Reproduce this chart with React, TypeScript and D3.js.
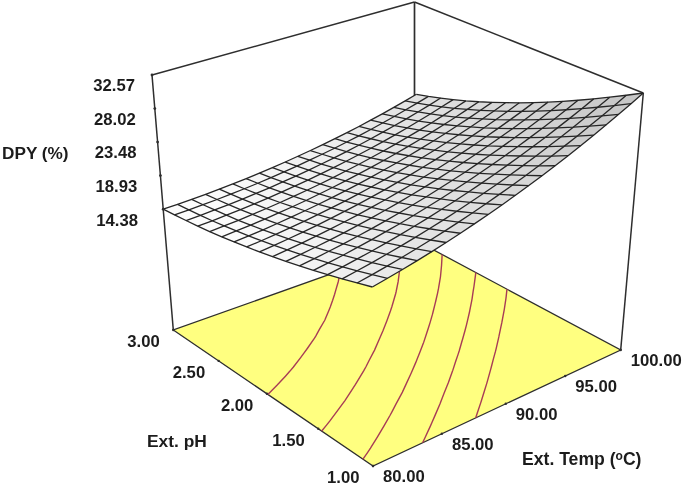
import React from "react";
import * as d3 from "d3";

const tempTicks = [80, 85, 90, 95, 100];
const phTicks = [1, 1.5, 2, 2.5, 3];
const zTicks = [14.38, 18.93, 23.48, 28.02, 32.57];
const zFloor = -2;
const zTop = 32.57;
const contourLevels = [16.6, 18.55, 20.3, 22.05, 23.95];

// DPY over the grid: 17 rows run pH 1.00 -> 3.00, 21 columns run Temp 80 -> 100
const surfaceRows: number[][] = [
  [20.75,21.08,21.44,21.82,22.23,22.67,23.14,23.64,24.16,24.71,25.29,25.89,26.52,27.18,27.87,28.58,29.33,30.10,30.89,31.72,32.57],
  [20.12,20.42,20.76,21.12,21.51,21.92,22.36,22.83,23.33,23.85,24.40,24.97,25.58,26.21,26.87,27.56,28.27,29.01,29.77,30.57,31.39],
  [19.52,19.80,20.11,20.45,20.81,21.20,21.62,22.06,22.53,23.03,23.55,24.10,24.68,25.28,25.91,26.57,27.25,27.96,28.70,29.47,30.26],
  [18.95,19.21,19.50,19.81,20.15,20.52,20.91,21.33,21.78,22.24,22.75,23.27,23.82,24.40,25.00,25.63,26.28,26.97,27.67,28.41,29.17],
  [18.41,18.65,18.91,19.21,19.52,19.87,20.23,20.63,21.05,21.50,21.97,22.47,22.99,23.55,24.12,24.73,25.35,26.01,26.69,27.40,28.13],
  [17.90,18.12,18.37,18.63,18.93,19.25,19.60,19.97,20.37,20.79,21.24,21.72,22.21,22.74,23.29,23.87,24.47,25.10,25.75,26.43,27.14],
  [17.43,17.63,17.85,18.10,18.37,18.67,19.00,19.35,19.72,20.12,20.55,21.00,21.47,21.98,22.50,23.05,23.63,24.23,24.86,25.51,26.19],
  [16.98,17.16,17.37,17.59,17.84,18.13,18.42,18.76,19.11,19.49,19.89,20.32,20.77,21.25,21.75,22.28,22.83,23.41,24.01,24.63,25.29],
  [16.57,16.73,16.92,17.13,17.36,17.62,17.90,18.21,18.54,18.90,19.28,19.69,20.12,20.57,21.05,21.55,22.08,22.63,23.21,23.81,24.44],
  [16.19,16.33,16.50,16.69,16.91,17.15,17.41,17.69,18.01,18.35,18.71,19.09,19.50,19.93,20.39,20.87,21.38,21.90,22.46,23.03,23.64],
  [15.84,15.96,16.11,16.29,16.49,16.71,16.95,17.22,17.51,17.83,18.17,18.54,18.92,19.33,19.77,20.23,20.71,21.22,21.75,22.30,22.88],
  [15.51,15.63,15.76,15.91,16.10,16.30,16.52,16.78,17.05,17.35,17.67,18.01,18.38,18.77,19.19,19.62,20.08,20.57,21.07,21.61,22.16],
  [15.22,15.32,15.43,15.57,15.74,15.93,16.14,16.37,16.62,16.90,17.21,17.53,17.88,18.25,18.64,19.06,19.50,19.96,20.45,20.96,21.49],
  [14.97,15.04,15.15,15.28,15.42,15.59,15.79,16.01,16.24,16.51,16.79,17.10,17.43,17.78,18.15,18.55,18.97,19.41,19.88,20.37,20.88],
  [14.75,14.81,14.91,15.01,15.15,15.31,15.48,15.69,15.91,16.15,16.42,16.71,17.02,17.35,17.71,18.09,18.49,18.91,19.36,19.82,20.31],
  [14.55,14.60,14.68,14.78,14.90,15.04,15.20,15.39,15.60,15.82,16.08,16.35,16.64,16.96,17.29,17.65,18.04,18.44,18.87,19.31,19.78],
  [14.38,14.42,14.49,14.57,14.68,14.80,14.95,15.12,15.32,15.53,15.77,16.02,16.30,16.60,16.92,17.26,17.63,18.01,18.42,18.85,19.30],
];

type P = [number, number];

function homography(p0: P, p1: P, p2: P, p3: P) {
  const dx1 = p1[0] - p2[0], dx2 = p3[0] - p2[0], sx = p0[0] - p1[0] + p2[0] - p3[0];
  const dy1 = p1[1] - p2[1], dy2 = p3[1] - p2[1], sy = p0[1] - p1[1] + p2[1] - p3[1];
  const den = dx1 * dy2 - dx2 * dy1;
  const g = (sx * dy2 - dx2 * sy) / den, h = (dx1 * sy - sx * dy1) / den;
  const a = p1[0] - p0[0] + g * p1[0], b = p3[0] - p0[0] + h * p3[0];
  const d = p1[1] - p0[1] + g * p1[1], e = p3[1] - p0[1] + h * p3[1];
  return (s: number, t: number): P => {
    const w = g * s + h * t + 1;
    return [(a * s + b * t + p0[0]) / w, (d * s + e * t + p0[1]) / w];
  };
}

const floorH = homography([373, 466], [620.7, 350], [419.5, 242.4], [173.3, 330]);
const topH = homography([372, 194], [643.3, 93], [414.5, 2], [152, 75]);

const uScale = d3.scaleLinear().domain([80, 100]).range([0, 1]);
const vScale = d3.scaleLinear().domain([1, 3]).range([0, 1]);
const zScale = d3.scaleLinear().domain([zFloor, zTop]).range([0, 1]);

function project(temp: number, ph: number, z: number): P {
  const u = uScale(temp), v = vScale(ph), f = zScale(z);
  const a = floorH(u, v), b = topH(u, v);
  return [a[0] + (b[0] - a[0]) * f, a[1] + (b[1] - a[1]) * f];
}

const nT = surfaceRows[0].length, nP = surfaceRows.length;
const tempAt = d3.scaleLinear().domain([0, nT - 1]).range([80, 100]);
const phAt = d3.scaleLinear().domain([0, nP - 1]).range([1, 3]);
const surfPoint = (i: number, j: number) => project(tempAt(i), phAt(j), surfaceRows[j][i]);

const line = d3.line<P>();
const grey = d3.scaleLinear<string>().domain([0.1, 0.85]).range(["#fcfcfc", "#c6c6c6"]).clamp(true);

const cells: { d: string; fill: string }[] = [];
for (let j = nP - 2; j >= 0; j--) {
  for (let i = nT - 2; i >= 0; i--) {
    const slope = (surfaceRows[j][i + 1] - surfaceRows[j][i] + surfaceRows[j + 1][i + 1] - surfaceRows[j + 1][i]) / 2;
    cells.push({
      d: line([surfPoint(i, j), surfPoint(i + 1, j), surfPoint(i + 1, j + 1), surfPoint(i, j + 1)])! + "Z",
      fill: grey(slope),
    });
  }
}
const gridLines: string[] = [];
for (let j = 0; j < nP; j++) gridLines.push(line(d3.range(nT).map((i) => surfPoint(i, j)))!);
for (let i = 0; i < nT; i++) gridLines.push(line(d3.range(nP).map((j) => surfPoint(i, j)))!);

// floor contour lines from the surface values
const contourGen = d3.contours().size([nT, nP]).thresholds(contourLevels);
const contourPaths: string[] = [];
contourGen(surfaceRows.flat()).forEach((mp) => {
  mp.coordinates.forEach((poly) =>
    poly.forEach((ring) => {
      let run: P[] = [];
      const flush = () => {
        if (run.length > 1) contourPaths.push(line(run)!);
        run = [];
      };
      ring.forEach(([x, y]) => {
        if (x >= 0.5 && x <= nT - 0.5 && y >= 0.5 && y <= nP - 0.5) {
          run.push(project(tempAt(x - 0.5), phAt(y - 0.5), zFloor));
        } else flush();
      });
      flush();
    })
  );
});

const fontFamily = "'Liberation Sans', Arial, sans-serif";
const ink = "#2e2e2e";

function Edge({ a, b, w = 1.5 }: { a: P; b: P; w?: number }) {
  return <line x1={a[0]} y1={a[1]} x2={b[0]} y2={b[1]} stroke={ink} strokeWidth={w} />;
}

export default function App() {
  const fL = project(80, 3, zFloor), fF = project(80, 1, zFloor), fR = project(100, 1, zFloor), fB = project(100, 3, zFloor);
  const tL = project(80, 3, zTop), tR = project(100, 1, zTop), tB = project(100, 3, zTop);
  const zLabelX = d3.scaleLinear().domain([14.38, 32.57]).range([138, 135]);
  return (
    <svg width={685} height={484} style={{ position: "absolute", left: 0, top: 0, background: "#fff", filter: "blur(0.35px)" }}
      fontFamily={fontFamily} fontWeight={700} fontSize={16.7} fill="#1c1c1c">
      <Edge a={tL} b={tB} />
      <Edge a={tB} b={tR} />
      <Edge a={tB} b={[414.5, 100]} w={1.7} />
      <Edge a={tL} b={fL} />
      <Edge a={tR} b={fR} />
      <path d={line([fL, fF, fR, fB])! + "Z"} fill="#ffff80" stroke={ink} strokeWidth={1.3} />
      {contourPaths.map((d, i) => (
        <path key={i} d={d} fill="none" stroke="#a83c55" strokeWidth={1.4} />
      ))}
      {cells.map((c, i) => (
        <path key={i} d={c.d} fill={c.fill} />
      ))}
      {gridLines.map((d, i) => (
        <path key={i} d={d} fill="none" stroke="#262626" strokeWidth={1.3} />
      ))}
      {zTicks.map((z) => {
        const p = project(80, 3, z);
        return (
          <g key={z}>
            <circle cx={p[0]} cy={p[1]} r={1.4} fill={ink} />
            <text x={zLabelX(z)} y={p[1] + 10.5} dy="0.35em" textAnchor="end">{z.toFixed(2)}</text>
          </g>
        );
      })}
      {phTicks.map((ph) => {
        const p = project(80, ph, zFloor);
        return (
          <g key={ph}>
            <circle cx={p[0]} cy={p[1]} r={1.2} fill={ink} />
            <text x={p[0] - 13.5} y={p[1] + 11} dy="0.35em" textAnchor="end">{ph.toFixed(2)}</text>
          </g>
        );
      })}
      {tempTicks.map((t) => {
        const p = project(t, 1, zFloor);
        return (
          <g key={t}>
            <circle cx={p[0]} cy={p[1]} r={1.2} fill={ink} />
            <text x={p[0] + 10} y={p[1] + 10.5} dy="0.35em">{t.toFixed(2)}</text>
          </g>
        );
      })}
      <text x={2} y={153} dy="0.35em" fontSize={17.2}>DPY (%)</text>
      <text x={147} y={441} dy="0.35em" fontSize={17.4}>Ext. pH</text>
      <text x={522} y={459} dy="0.35em" fontSize={17.6}>
        Ext. Temp (<tspan dy="-5" fontSize={12}>o</tspan><tspan dy="5">C)</tspan>
      </text>
    </svg>
  );
}
